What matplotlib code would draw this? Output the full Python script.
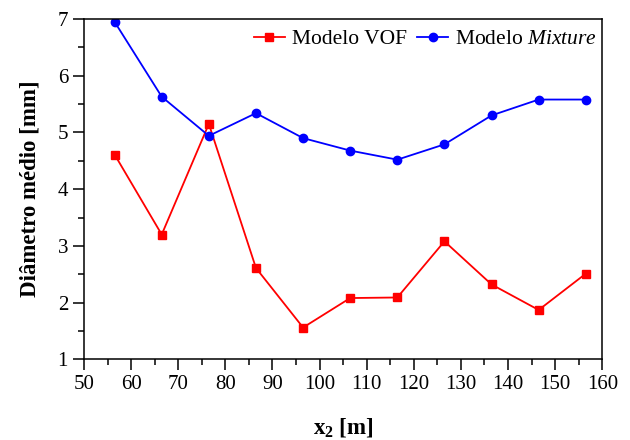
import numpy as np
import matplotlib.pyplot as plt

plt.rcParams['font.family'] = 'Liberation Serif'
plt.rcParams['mathtext.fontset'] = 'custom'
plt.rcParams['mathtext.rm'] = 'Liberation Serif'
plt.rcParams['mathtext.it'] = 'Liberation Serif:italic'
plt.rcParams['mathtext.bf'] = 'Liberation Serif:bold'

# data
x2 = [56.5, 66.5, 76.5, 86.5, 96.5, 106.5, 116.5, 126.5, 136.5, 146.5, 156.5]
vof = [4.61, 3.20, 5.15, 2.61, 1.56, 2.08, 2.09, 3.08, 2.32, 1.87, 2.51]
mixture = [6.95, 5.63, 4.94, 5.34, 4.90, 4.68, 4.52, 4.79, 5.30, 5.58, 5.58]

fig = plt.figure(figsize=(6.3, 4.4), dpi=100)
ax = fig.add_axes([0.1333, 0.1834, 0.8227, 0.7734])

ax.plot(x2, vof, '-s', color='#ff0000', lw=1.3, ms=5.5, label='Modelo VOF')
ax.plot(x2, mixture, '-o', color='#0000ff', lw=1.3, ms=6, label=r'Modelo $\mathit{Mixture}$')

ax.set_xlim(50, 160)
ax.set_ylim(1, 7)
ax.set_xticks(np.arange(50, 161, 10))
ax.set_xticks(np.arange(55, 160, 10), minor=True)
ax.set_yticks(np.arange(1, 8, 1))
ax.set_yticks(np.arange(1.5, 7, 1), minor=True)
ax.tick_params(which='major', direction='out', length=8, width=1.1, labelsize=15, top=False, right=False)
ax.tick_params(which='minor', direction='out', length=4, width=1.1, top=False, right=False)
for s in ax.spines.values():
    s.set_linewidth(1.1)

ax.set_xlabel(r'x$_\mathbf{2}$ [m]', fontsize=16.5, fontweight='bold', labelpad=16)
ax.set_ylabel('Diâmetro médio [mm]', fontsize=16.5, fontweight='bold', labelpad=12)

ax.legend(loc='upper right', ncol=2, frameon=False, fontsize=15.5,
          handlelength=1.45, handletextpad=0.3, columnspacing=0.5,
          borderaxespad=0.0, bbox_to_anchor=(1.006, 0.995))

plt.savefig('out.png', dpi=100)
